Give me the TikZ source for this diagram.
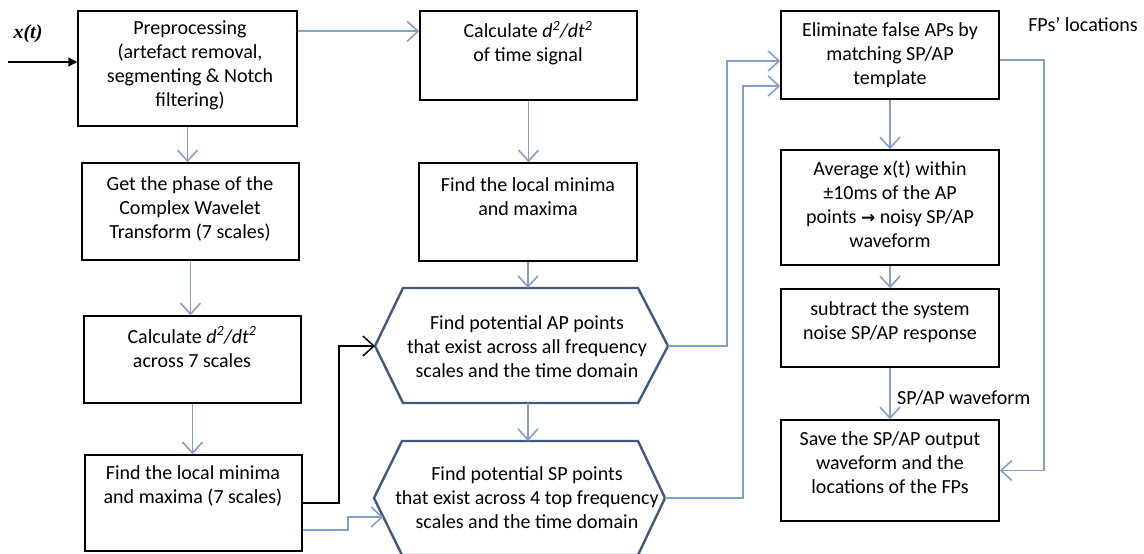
\documentclass[tikz,border=0pt]{standalone}
\usepackage{fontspec}
\setmainfont{Carlito}
\newfontfamily\serifbi{Liberation Serif}
\newfontfamily\dejavu{DejaVu Sans}
\usetikzlibrary{arrows.meta,calc}
\definecolor{connblue}{RGB}{132,160,198}
\definecolor{hexblue}{RGB}{62,90,130}
\begin{document}
\begin{tikzpicture}[x=1pt,y=-1pt,
  box/.style={draw=black,line width=1.5pt,inner sep=0pt},
  txt/.style={font=\fontsize{20}{24}\selectfont,align=center,inner sep=0pt},
  hexa/.style={draw=hexblue,line width=2.4pt,line join=miter},
  conn/.style={draw=connblue,line width=1.6pt,-{Straight Barb[length=11pt,width=20pt,line width=1.6pt]}},
  blk/.style={draw=black,line width=1.5pt,-{Straight Barb[length=11pt,width=20pt,line width=1.5pt]}},
  inarr/.style={draw=black,line width=1.5pt,-{Triangle[length=9pt,width=9pt]}}]
\fill[white] (0,0) rectangle (1144,554);
\useasboundingbox (0,0) rectangle (1144,554);

% boxes
\node[box,minimum width=219pt,minimum height=115pt] (pre)   at (187.5,68.5) {};
\node[box,minimum width=217pt,minimum height=97pt]  (phase) at (190.5,211.5) {};
\node[box,minimum width=217pt,minimum height=87pt]  (calc7) at (192.5,359.5) {};
\node[box,minimum width=217pt,minimum height=96pt]  (mm7)   at (193.5,503) {};
\node[box,minimum width=217pt,minimum height=89pt]  (calcT) at (528.5,55.5) {};
\node[box,minimum width=218pt,minimum height=98pt]  (mmT)   at (528,212) {};
\node[box,minimum width=218pt,minimum height=88pt]  (elim)  at (890,55) {};
\node[box,minimum width=218pt,minimum height=115pt] (avg)   at (890,207.5) {};
\node[box,minimum width=218pt,minimum height=78pt]  (sub)   at (890,328) {};
\node[box,minimum width=218pt,minimum height=101pt] (save)  at (890,470.5) {};

% hexagons
\coordinate (apW) at (375,346); \coordinate (apE) at (668,346);
\coordinate (apN) at (528,288); \coordinate (apS) at (528,403);
\draw[hexa] (403,288) -- (638,288) -- (apE) -- (638,403) -- (403,403) -- (apW) -- cycle;
\coordinate (spW) at (374,498); \coordinate (spE) at (665,498);
\coordinate (spN) at (528,441); \coordinate (spIn) at (383.3,517);
\draw[hexa] (402,441) -- (638,441) -- (spE) -- (638,555) -- (402,555) -- (spW) -- cycle;

% texts
\node[txt] (preT) at (190,65) {Preprocessing\\(artefact removal,\\segmenting \& Notch\\filtering)};
\node[txt] (phaseT) at (190,209) {Get the phase of the\\Complex Wavelet\\Transform (7 scales)};
\node[txt] (calc7T) at (192,347) {Calculate \textit{d\textsuperscript{2}/dt\textsuperscript{2}}\\across 7 scales};
\node[txt] (mm7T) at (193,486) {Find the local minima\\and maxima (7 scales)};
\node[txt] (calcTT) at (528,43) {Calculate \textit{d\textsuperscript{2}/dt\textsuperscript{2}}\\of time signal};
\node[txt] (mmTT) at (528,197) {Find the local minima\\and maxima};
\node[txt] (ap) at (527,347) {Find potential AP points\\that exist across all frequency\\scales and the time domain};
\node[txt] (sp) at (527,498) {Find potential SP points\\that exist across 4 top frequency\\scales and the time domain};
\node[txt] (elimT) at (890,55) {Eliminate false APs by\\matching SP/AP\\template};
\node[txt] (avgT) at (890,204) {Average x(t) within\\±10ms of the AP\\points {\dejavu\bfseries\fontsize{17}{24}\selectfont →} noisy SP/AP\\waveform};
\node[txt] (subT) at (890,322) {subtract the system\\noise SP/AP response};
\node[txt] (saveT) at (890,463) {Save the SP/AP output\\waveform and the\\locations of the FPs};
\node[txt,anchor=west] (lblW) at (897,398) {SP/AP waveform};
\node[txt] (lblF) at (1083,25) {FPs' locations};
\node[inner sep=0pt,font=\serifbi\bfseries\itshape\fontsize{20}{24}\selectfont] (xt) at (28,34) {x(t)};

% connectors
\coordinate (in) at (8,62);
\draw[inarr] (in) -- (pre.west |- in);
\draw[conn] ($(pre.north east)+(0,21)$) -- ($(calcT.north west)+(0,21)$);
\draw[conn] (pre.south) -- (pre.south |- phase.north);
\draw[conn] (phase.south) -- (phase.south |- calc7.north);
\draw[conn] (calc7.south) -- (calc7.south |- mm7.north);
\draw[blk] (mm7.east) -- ++(36,0) |- (apW);
\draw[conn] ($(mm7.east)+(0,27)$) -- ++(45,0) |- (spIn);
\draw[conn] (calcT.south) -- (calcT.south |- mmT.north);
\draw[conn] (mmT.south) -- (apN);
\draw[conn] (apS) -- (spN);
\draw[conn] (apE) -- ++(59,0) |- ($(elim.west)+(0,6)$);
\draw[conn] (spE) -- ++(78,0) |- ($(elim.west)+(0,31)$);
\draw[conn] (elim.south) -- (avg.north);
\draw[conn] (avg.south) -- (sub.north);
\draw[conn] (sub.south) -- (save.north);
\draw[conn] ($(elim.east)+(0,5)$) -- ++(44,0) |- (save.east);
\end{tikzpicture}
\end{document}
